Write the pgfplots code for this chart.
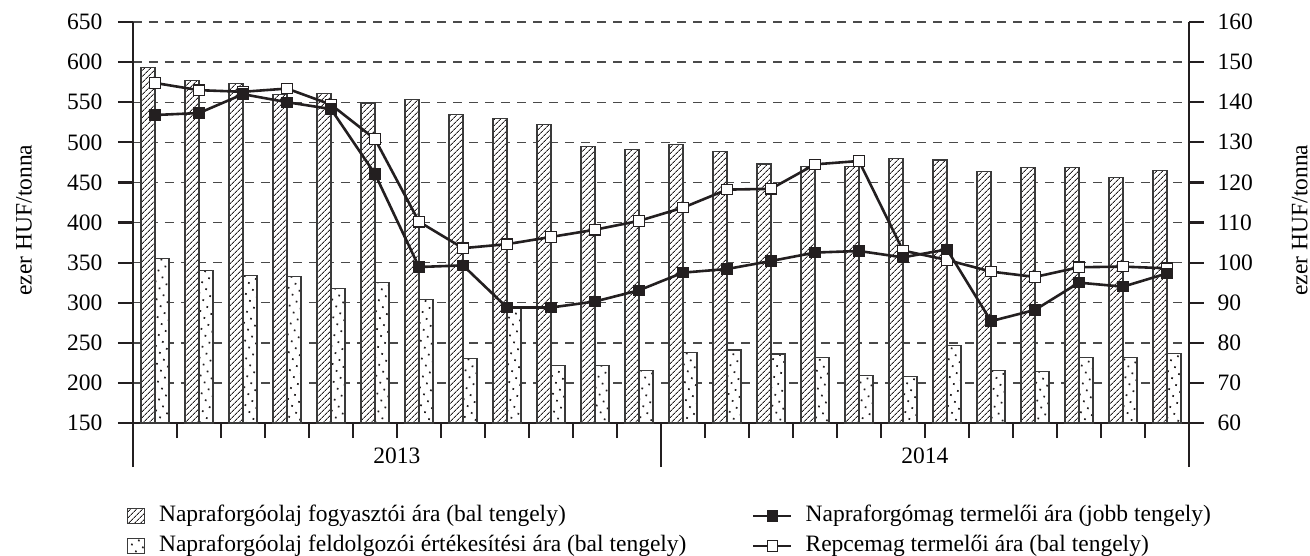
\documentclass[border=0pt]{standalone}
\usepackage{fontspec}
\setmainfont{Liberation Serif}
\usepackage{pgfplots}
\pgfplotsset{compat=1.18}
\usetikzlibrary{patterns.meta}
\definecolor{ln}{HTML}{231F20}
\definecolor{gridc}{HTML}{4A4A4A}
\definecolor{barc}{HTML}{3A3A3A}
\newcommand{\fs}{\fontsize{23.5}{28}\selectfont}
\begin{document}
\begin{tikzpicture}
\useasboundingbox (0,0) rectangle (1310pt,-556pt);
\begin{axis}[
  at={(133pt,-423pt)}, anchor=south west,
  scale only axis, width=1056pt, height=401pt,
  xmin=0, xmax=24, ymin=150, ymax=650,
  axis y line*=left, axis x line*=bottom,
  axis line style={line width=2.5pt, color=ln},
  /pgf/number format/assume math mode=true,
  ytick={150,200,...,650},
  ymajorgrids, grid style={gridc, line width=1.4pt, dash pattern=on 9pt off 7pt},
  major tick length=15pt, tick align=outside,
  tick style={line width=2.2pt, color=ln},
  xtick={1,...,23},
  xticklabels={,,,,,2013,,,,,,,,,,,,2014,,,,,},
  xticklabel style={yshift=-6pt},
  extra x ticks={0,12,24}, extra x tick labels={},
  extra x tick style={major tick length=44pt, tick style={line width=2.5pt}},
  yticklabel style={xshift=-12pt},
  tick label style={font=\fs},
  every axis y label/.style={at={(axis description cs:-0.1032,0.506)}, rotate=90, anchor=center, font=\fs},
  ylabel={ezer HUF/tonna},
  legend style={at={(axis description cs:-0.006,-0.2045)}, anchor=north west, draw=none, fill=none, inner sep=0pt, row sep=8.5pt,
     nodes={inner sep=0pt, font=\fs, text height=16pt, text depth=5.5pt, anchor=west},
     /tikz/every odd column/.append style={column sep=14pt}},
  legend cell align=left,
  legend image code/.code={\draw[#1] (0pt,-7.5pt) rectangle (17pt,7.5pt);},
]
\addplot[ybar, bar width=14pt, bar shift=-7pt, draw=barc, line width=1.2pt, fill=white,
  postaction={pattern={Lines[angle=45,distance=4pt,line width=0.9pt]}, pattern color=ln}]
coordinates {
(0.5,593) (1.5,577) (2.5,573) (3.5,560) (4.5,561) (5.5,549) (6.5,553) (7.5,535) (8.5,530) (9.5,522) (10.5,495) (11.5,491)
(12.5,497) (13.5,489) (14.5,473) (15.5,470) (16.5,470) (17.5,480) (18.5,478) (19.5,464) (20.5,469) (21.5,469) (22.5,456) (23.5,465)};
\addplot[ybar, bar width=14pt, bar shift=7pt, draw=barc, line width=1.2pt, fill=white,
  postaction={pattern={Dots[distance=8pt,radius=1.2pt,angle=30]}, pattern color=ln}]
coordinates {
(0.5,355) (1.5,340) (2.5,334) (3.5,333) (4.5,318) (5.5,325) (6.5,304) (7.5,230) (8.5,293) (9.5,222) (10.5,222) (11.5,215)
(12.5,238) (13.5,241) (14.5,236) (15.5,232) (16.5,209) (17.5,208) (18.5,247) (19.5,215) (20.5,214) (21.5,232) (22.5,232) (23.5,237)};
\addplot[ln, line width=2.6pt, mark=square*, mark size=5.2pt, mark options={fill=white, draw=ln, line width=1.2pt}]
coordinates {
(0.5,574) (1.5,565) (2.5,563) (3.5,567) (4.5,547) (5.5,504) (6.5,401) (7.5,368) (8.5,373) (9.5,382) (10.5,391) (11.5,402)
(12.5,418.5) (13.5,441) (14.5,442) (15.5,472.5) (16.5,476.7) (17.5,365) (18.5,353.3) (19.5,338.8) (20.5,332.1) (21.5,344.2) (22.5,345) (23.5,342.9)};
\legend{Napraforgóolaj fogyasztói ára (bal tengely), Napraforgóolaj feldolgozói értékesítési ára (bal tengely)}
\end{axis}
\begin{axis}[
  at={(133pt,-423pt)}, anchor=south west,
  scale only axis, width=1056pt, height=401pt,
  xmin=0, xmax=24, ymin=60, ymax=160,
  axis y line*=right, axis x line=none,
  axis line style={line width=2.5pt, color=ln},
  /pgf/number format/assume math mode=true,
  ytick={60,70,...,160},
  major tick length=15pt, tick align=outside,
  tick style={line width=2.2pt, color=ln},
  yticklabel style={xshift=10pt},
  tick label style={font=\fs},
  every axis y label/.style={at={(axis description cs:1.105,0.506)}, rotate=90, anchor=center, font=\fs},
  ylabel={ezer HUF/tonna},
  legend style={at={(axis description cs:0.586,-0.2045)}, anchor=north west, draw=none, fill=none, inner sep=0pt, row sep=8.5pt,
     nodes={inner sep=0pt, font=\fs, text height=16pt, text depth=5.5pt, anchor=west},
     /tikz/every odd column/.append style={column sep=13pt}},
  legend cell align=left,
  legend image code/.code={\draw[mark repeat=2,mark phase=2,#1] plot coordinates {(0pt,0pt) (19pt,0pt) (38pt,0pt)};},
]
\addplot[ln, line width=2.6pt, mark=square*, mark size=5.2pt, mark options={fill=ln, draw=ln, line width=1pt}]
coordinates {
(0.5,136.8) (1.5,137.3) (2.5,142) (3.5,140) (4.5,138.3) (5.5,122.1) (6.5,98.9) (7.5,99.3) (8.5,88.8) (9.5,88.8) (10.5,90.3) (11.5,93.1)
(12.5,97.5) (13.5,98.4) (14.5,100.4) (15.5,102.5) (16.5,102.9) (17.5,101.3) (18.5,103.3) (19.5,85.4) (20.5,88.2) (21.5,95.0) (22.5,94.0) (23.5,97.3)};
\addlegendentry{Napraforgómag termelői ára (jobb tengely)}
\addlegendimage{ln, line width=2.6pt, mark=square*, mark size=5.2pt, mark options={fill=white, draw=ln, line width=1.2pt}}
\addlegendentry{Repcemag termelői ára (bal tengely)}
\end{axis}
\end{tikzpicture}
\end{document}
